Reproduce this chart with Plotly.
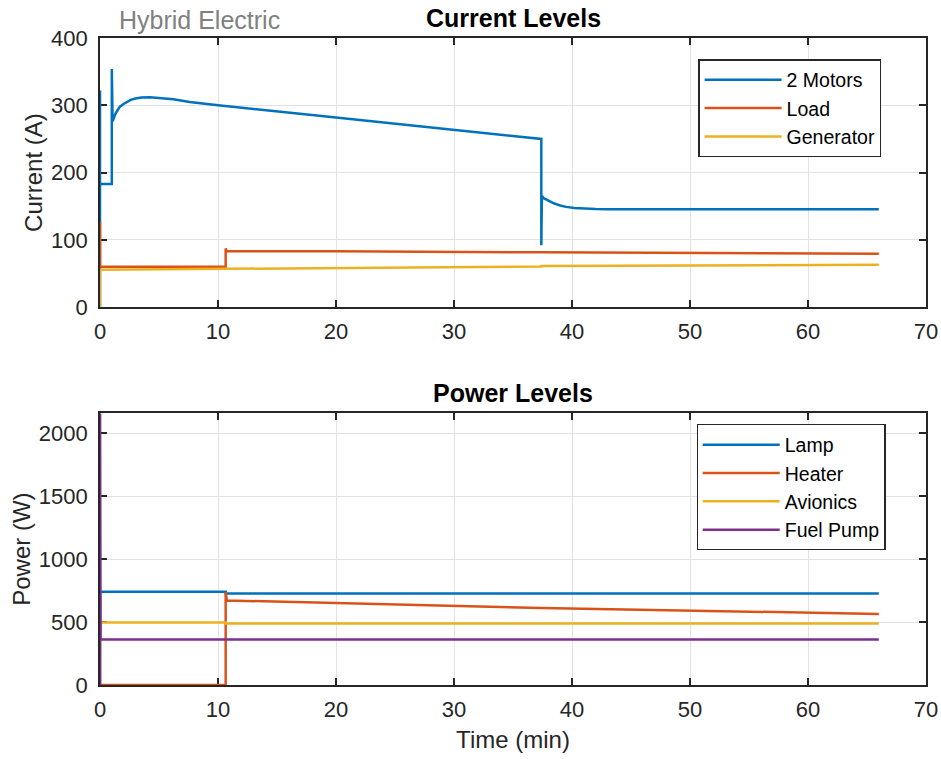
import plotly.graph_objects as go
from plotly.subplots import make_subplots

# ---------------- data (time in minutes) ----------------
motors_t = [0, 0, 0, 1.0, 1.0, 1.07, 1.3, 1.5, 1.69, 2.0, 2.26, 2.6, 3.0, 3.5, 4.24, 5.0,
            6.21, 7.6, 10.0, 20.0, 30.0, 37.4,
            37.4, 37.45, 37.6, 38.0, 38.5, 39.0, 39.5, 40.2, 41.0, 42.0, 43.0, 46.0, 66.0]
motors_a = [0, 322, 183, 183, 354, 276, 287, 293, 298, 302, 305, 308, 310, 311.5, 312, 311,
            309, 305, 300, 282, 264, 250,
            92, 165, 162, 158, 154, 151, 149, 147.5, 146.5, 145.8, 145.5, 145.5, 145.5]

load_t = [0, 0, 10.65, 10.65, 10.75, 20.0, 37.4, 66.0]
load_a = [127, 60, 60, 87, 83, 83, 81.5, 79.5]

gen_t = [0, 0, 37.4, 37.4, 66.0]
gen_a = [0, 55.5, 60.5, 61, 63]

lamp_t = [0, 0, 10.65, 10.65, 66.0]
lamp_w = [0, 742, 742, 728, 728]

heater_t = [0, 10.65, 10.65, 10.75, 37.4, 66.0]
heater_w = [0, 0, 738, 672, 612, 565]

avionics_t = [0, 0, 10.65, 10.65, 66.0]
avionics_w = [0, 497, 497, 488, 488]

pump_t = [0, 0, 0.05, 66.0]
pump_w = [0, 2400, 362, 362]

x_ticks = [0, 10, 20, 30, 40, 50, 60, 70]
current_ticks = [0, 100, 200, 300, 400]
power_ticks = [0, 500, 1000, 1500, 2000]

# ---------------- style ----------------
C1, C2, C3, C4 = "#0072BD", "#D95319", "#EDB120", "#7E2F8E"
FONT = "Liberation Sans, Arial, sans-serif"
AX = "#262626"
GRID = "#e2e2e2"
LW = 2.5

fig = make_subplots(rows=2, cols=1, vertical_spacing=0.0)

def add(t, v, name, color, row, legend):
    fig.add_trace(go.Scatter(x=t, y=v, mode="lines", name=name,
                             line=dict(color=color, width=LW),
                             legend=legend), row=row, col=1)

add(motors_t, motors_a, "2 Motors", C1, 1, "legend")
add(load_t, load_a, "Load", C2, 1, "legend")
add(gen_t, gen_a, "Generator", C3, 1, "legend")
add(lamp_t, lamp_w, "Lamp", C1, 2, "legend2")
add(heater_t, heater_w, "Heater", C2, 2, "legend2")
add(avionics_t, avionics_w, "Avionics", C3, 2, "legend2")
add(pump_t, pump_w, "Fuel Pump", C4, 2, "legend2")

axis_common = dict(showline=True, linecolor=AX, linewidth=1.6, mirror="ticks",
                   ticks="inside", ticklen=7, tickwidth=1.6, tickcolor=AX,
                   showgrid=True, gridcolor=GRID, gridwidth=1, zeroline=False,
                   tickfont=dict(family=FONT, size=22, color=AX),
                   layer="below traces", automargin=False)

fig.update_xaxes(**axis_common, range=[0, 70], tickvals=x_ticks, ticklabelstandoff=4)
fig.update_yaxes(**axis_common, ticklabelstandoff=6)

fig.update_layout(
    xaxis=dict(domain=[0, 1], anchor="y"),
    yaxis=dict(domain=[0.584, 1.0], range=[0, 400], tickvals=current_ticks,
               title=dict(text="Current (A)", font=dict(family=FONT, size=24, color=AX), standoff=2)),
    xaxis2=dict(domain=[0, 1], anchor="y2",
                title=dict(text="Time (min)", font=dict(family=FONT, size=24, color=AX), standoff=10)),
    yaxis2=dict(domain=[0.0, 0.420], range=[0, 2160], tickvals=power_ticks,
                title=dict(text="Power (W)", font=dict(family=FONT, size=24, color=AX), standoff=1)),
)

legend_common = dict(font=dict(family=FONT, size=19.5, color="#000000"), bgcolor="white",
                     bordercolor=AX, borderwidth=1.2, xanchor="right", yanchor="top",
                     tracegroupgap=0, itemwidth=77)

fig.update_layout(
    width=941, height=759,
    margin=dict(l=100, r=15, t=38, b=74),
    paper_bgcolor="white", plot_bgcolor="white",
    font=dict(family=FONT, color=AX),
    legend=dict(**legend_common, x=0.946, y=0.967),
    legend2=dict(**legend_common, x=0.951, y=0.403),
    annotations=[
        dict(text="<b>Current Levels</b>", x=0.5, y=1.0, xref="paper", yref="paper",
             xanchor="center", yanchor="bottom", yshift=4, showarrow=False,
             font=dict(family=FONT, size=25, color="#000000")),
        dict(text="<b>Power Levels</b>", x=0.5, y=0.420, xref="paper", yref="paper",
             xanchor="center", yanchor="bottom", yshift=4, showarrow=False,
             font=dict(family=FONT, size=25, color="#000000")),
        dict(text="Hybrid Electric", x=0.02, y=1.0, xref="paper", yref="paper",
             xanchor="left", yanchor="bottom", yshift=2, showarrow=False,
             font=dict(family=FONT, size=25, color="#808080")),
    ],
)

fig.write_html("out.html")
